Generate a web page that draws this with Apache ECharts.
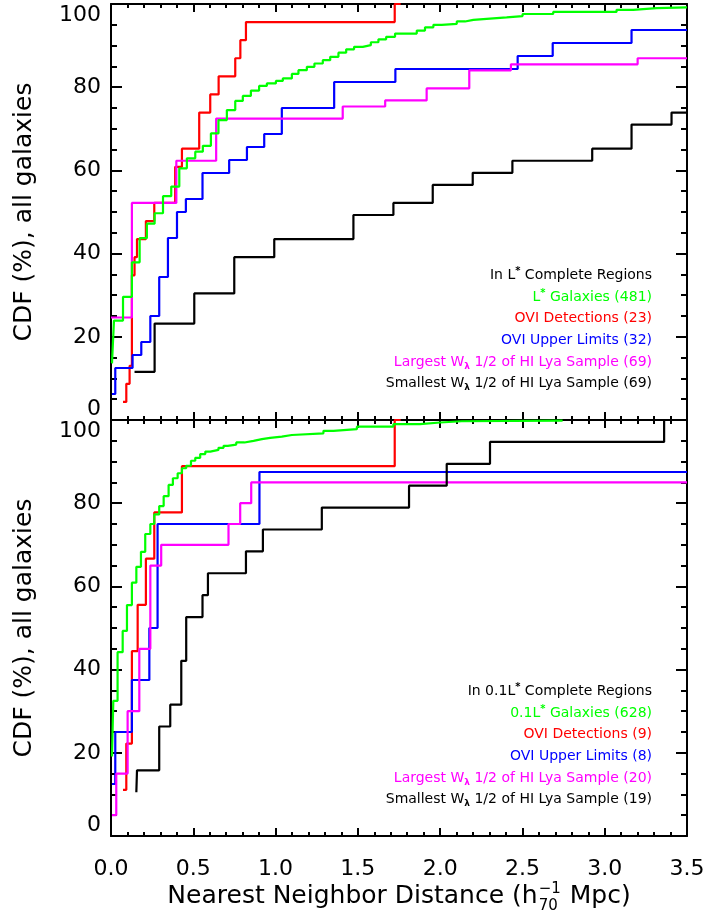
<!DOCTYPE html>
<html>
<head>
<meta charset="utf-8">
<script src="https://cdn.jsdelivr.net/npm/echarts@6/dist/echarts.min.js"></script>
<style>
html,body{margin:0;padding:0;background:#fff;}
#chart{width:709px;height:915px;}
</style>
</head>
<body>
<div id="chart"></div>
<script>
// ---------- Data ----------
// Top panel: L* complete regions
const greenTopX = [0.006, 0.018, 0.073, 0.127, 0.174, 0.218, 0.265, 0.316, 0.366, 0.415, 0.461, 0.512, 0.558, 0.607, 0.653, 0.704, 0.755, 0.801, 0.850, 0.900, 0.947, 1.002, 1.044, 1.099, 1.139, 1.190, 1.236, 1.287, 1.332, 1.382, 1.429, 1.477, 1.530, 1.579, 1.625, 1.672, 1.726, 1.858, 1.908, 1.959, 2.010, 2.101, 2.151, 2.202, 2.303, 2.404, 2.501, 2.687, 3.072, 3.173, 3.315, 3.5];
const greenTopY = [13.6, 23.9, 29.6, 37.9, 43.7, 47.2, 49.7, 53.8, 56.1, 60.5, 62.9, 64.5, 65.9, 68.9, 72.1, 74.5, 76.7, 77.9, 79.2, 80.3, 80.9, 81.5, 82.1, 83.2, 84.1, 84.9, 85.7, 86.5, 87.3, 88.3, 89.1, 89.7, 90.1, 90.8, 91.5, 92.1, 92.9, 93.6, 94.4, 95.0, 95.2, 95.8, 96.2, 96.5, 96.8, 97.1, 97.6, 98.1, 98.6, 99.0, 99.2, 99.2];

const redTopX = [0.073, 0.093, 0.113, 0.127, 0.143, 0.158, 0.212, 0.263, 0.390, 0.431, 0.536, 0.603, 0.654, 0.755, 0.786, 0.820, 1.724, 1.76];
const redTopY = [4.35, 8.70, 13.04, 34.78, 39.13, 43.48, 47.83, 52.17, 60.87, 65.22, 73.91, 78.26, 82.61, 86.96, 91.30, 95.65, 100, 100];

const blueTopX = [0.006, 0.026, 0.131, 0.184, 0.239, 0.293, 0.346, 0.401, 0.455, 0.556, 0.718, 0.826, 0.931, 1.038, 1.356, 1.728, 2.471, 2.684, 3.163, 3.5];
const blueTopY = [6.25, 12.5, 15.63, 18.75, 25.0, 34.38, 43.75, 50.0, 53.13, 59.38, 62.5, 65.63, 68.75, 75.0, 81.25, 84.38, 87.5, 90.63, 93.75, 93.75];

const magentaTopX = [0.0, 0.127, 0.397, 0.639, 1.408, 1.666, 1.918, 2.177, 2.430, 3.200, 3.5];
const magentaTopY = [24.64, 52.17, 62.32, 72.46, 75.36, 76.81, 79.71, 84.06, 85.51, 86.96, 86.96];

const blackTopX = [0.143, 0.265, 0.506, 0.749, 0.992, 1.473, 1.716, 1.955, 2.198, 2.439, 2.924, 3.163, 3.406, 3.5];
const blackTopY = [11.59, 23.19, 30.43, 39.13, 43.48, 49.28, 52.17, 56.52, 59.42, 62.32, 65.22, 71.01, 73.91, 73.91];

// Bottom panel: 0.1L* complete regions
const greenBotX = [0.006, 0.014, 0.040, 0.071, 0.097, 0.127, 0.154, 0.182, 0.208, 0.239, 0.263, 0.293, 0.320, 0.350, 0.376, 0.405, 0.431, 0.457, 0.486, 0.512, 0.542, 0.573, 0.603, 0.653, 0.684, 0.710, 0.761, 0.811, 0.866, 0.917, 0.967, 1.038, 1.099, 1.291, 1.352, 1.494, 1.716, 1.878, 2.000, 2.131, 2.744];
const greenBotY = [19.1, 32.5, 44.2, 49.3, 55.5, 60.9, 64.7, 68.3, 72.6, 75.0, 77.3, 79.3, 81.7, 84.4, 86.0, 87.2, 88.4, 89.0, 90.2, 90.9, 91.8, 92.4, 92.8, 93.3, 93.8, 94.1, 94.6, 95.0, 95.4, 95.7, 96.0, 96.4, 96.8, 97.4, 97.8, 98.4, 99.0, 99.4, 99.7, 99.85, 100];

const redBotX = [0.073, 0.093, 0.127, 0.162, 0.212, 0.263, 0.431, 1.724, 1.76];
const redBotY = [11.11, 22.22, 44.44, 55.56, 66.67, 77.78, 88.89, 100, 100];

const blueBotX = [0.006, 0.026, 0.127, 0.233, 0.283, 0.902, 3.5];
const blueBotY = [12.5, 25.0, 37.5, 50.0, 75.0, 87.5, 87.5];

const magentaBotX = [0.006, 0.032, 0.101, 0.172, 0.239, 0.305, 0.714, 0.785, 0.852, 3.5];
const magentaBotY = [5, 15, 30, 45, 65, 70, 75, 80, 85, 85];

const blackBotX = [0.154, 0.158, 0.293, 0.360, 0.427, 0.457, 0.556, 0.589, 0.820, 0.923, 1.281, 1.811, 2.040, 2.303, 3.361, 3.5];
const blackBotY = [10.53, 15.79, 26.32, 31.58, 42.11, 52.63, 57.89, 63.16, 68.42, 73.68, 78.95, 84.21, 89.47, 94.74, 100, 100];

// Text
const legendTop = [
  'In L{sup|*} Complete Regions',
  'L{sup|*} Galaxies (481)',
  'OVI Detections (23)',
  'OVI Upper Limits (32)',
  'Largest W{sub|λ} 1/2 of HI Lya Sample (69)',
  'Smallest W{sub|λ} 1/2 of HI Lya Sample (69)'
];
const legendBot = [
  'In 0.1L{sup|*} Complete Regions',
  '0.1L{sup|*} Galaxies (628)',
  'OVI Detections (9)',
  'OVI Upper Limits (8)',
  'Largest W{sub|λ} 1/2 of HI Lya Sample (20)',
  'Smallest W{sub|λ} 1/2 of HI Lya Sample (19)'
];
const legendColors = ['#000000', '#00ff00', '#ff0000', '#0000ff', '#ff00ff', '#000000'];
const yTitle = 'CDF (%), all galaxies';
const xTitleMain = 'Nearest Neighbor Distance (h';
const xTitleSup = '\u22121';
const xTitleSub = '70';
const xTitleEnd = ' Mpc)';

// ---------- Layout ----------
const FONT = '"DejaVu Sans", sans-serif';
const W = 709;
const gridLeft = 111, gridRight = 22;
const panelTop = [4, 420], panelH = 416;
const plotCX = gridLeft + (W - gridLeft - gridRight) / 2;
const LW = 2.2;

const zip = (xs, ys) => xs.map((x, i) => [x, ys[i]]);

function xAxisDef(grid, pos, labels) {
  return {
    type: 'value', gridIndex: grid, position: pos, min: 0, max: 3.5, interval: 0.5,
    axisLine: {show: true, onZero: false, lineStyle: {color: '#000', width: 2}},
    axisTick: {show: true, inside: true, length: 8, lineStyle: {color: '#000', width: 2}},
    minorTick: {show: true, splitNumber: 5, length: 4, lineStyle: {color: '#000', width: 2}},
    splitLine: {show: false}, minorSplitLine: {show: false},
    axisLabel: {show: labels, margin: 22, fontFamily: FONT, fontSize: 22, color: '#000',
      formatter: v => v.toFixed(1)}
  };
}
function yAxisDef(grid, pos, labels) {
  return {
    type: 'value', gridIndex: grid, position: pos, min: 0, max: 100, interval: 20,
    axisLine: {show: true, onZero: false, lineStyle: {color: '#000', width: 2}},
    axisTick: {show: true, inside: true, length: 11, lineStyle: {color: '#000', width: 2}},
    minorTick: {show: true, splitNumber: 4, length: 6, lineStyle: {color: '#000', width: 2}},
    splitLine: {show: false}, minorSplitLine: {show: false},
    axisLabel: {show: labels, margin: 10, fontFamily: FONT, fontSize: 22, color: '#000',
      verticalAlignMinLabel: 'bottom', verticalAlignMaxLabel: 'top'}
  };
}
function lineSeries(xs, ys, color, grid) {
  return {
    type: 'line', step: 'end', data: zip(xs, ys),
    xAxisIndex: grid * 2, yAxisIndex: grid * 2,
    showSymbol: false, symbol: 'none', clip: true, animation: false,
    lineStyle: {color: color, width: LW}, silent: true
  };
}

// measure text for the x-axis title
const mctx = document.createElement('canvas').getContext('2d');
function tw(text, size) { mctx.font = size + 'px ' + FONT; return mctx.measureText(text).width; }

const graphics = [];
// Legends
function addLegend(lines, centers) {
  lines.forEach((t, i) => {
    graphics.push({
      type: 'text', x: 652, y: centers[i], silent: true,
      style: {
        text: t, fill: legendColors[i], font: '14px ' + FONT,
        align: 'right', verticalAlign: 'middle', lineHeight: 18,
        rich: {
          sup: {fontSize: 10, lineHeight: 10, verticalAlign: 'top', fill: legendColors[i], fontFamily: FONT, fontWeight: 'bold'},
          sub: {fontSize: 9, lineHeight: 9, verticalAlign: 'bottom', fill: legendColors[i], fontFamily: FONT, fontWeight: 'bold'}
        }
      }
    });
  });
}
addLegend(legendTop, [275, 297, 318, 340, 362, 383]);
addLegend(legendBot, [691, 713, 734, 756, 778, 799]);

// Y titles
panelTop.forEach(t => {
  graphics.push({
    type: 'text', x: 24, y: t + panelH / 2, rotation: Math.PI / 2, silent: true,
    style: {text: yTitle, font: '25px ' + FONT, fill: '#000', align: 'center', verticalAlign: 'middle'}
  });
});

// X title
(function () {
  const fs = 25, fsSmall = 15;
  const wA = tw(xTitleMain, fs);
  const wS = Math.max(tw(xTitleSup, fsSmall), tw(xTitleSub, fsSmall));
  const wB = tw(xTitleEnd, fs);
  const total = wA + wS + wB + 2;
  const x0 = plotCX - total / 2;
  const yc = 896;
  graphics.push({type: 'text', x: x0, y: yc, silent: true,
    style: {text: xTitleMain, font: fs + 'px ' + FONT, fill: '#000', align: 'left', verticalAlign: 'middle'}});
  graphics.push({type: 'text', x: x0 + wA + 1, y: yc - 7, silent: true,
    style: {text: xTitleSup, font: fsSmall + 'px ' + FONT, fill: '#000', align: 'left', verticalAlign: 'middle'}});
  graphics.push({type: 'text', x: x0 + wA + 1, y: yc + 10, silent: true,
    style: {text: xTitleSub, font: fsSmall + 'px ' + FONT, fill: '#000', align: 'left', verticalAlign: 'middle'}});
  graphics.push({type: 'text', x: x0 + wA + wS + 2, y: yc, silent: true,
    style: {text: xTitleEnd, font: fs + 'px ' + FONT, fill: '#000', align: 'left', verticalAlign: 'middle'}});
})();

const chart = echarts.init(document.getElementById('chart'), null, {renderer: 'canvas'});
chart.setOption({
  animation: false,
  backgroundColor: '#fff',
  grid: panelTop.map(t => ({left: gridLeft, right: gridRight, top: t, height: panelH,
    containLabel: false, outerBoundsMode: 'none', show: false})),
  xAxis: [xAxisDef(0, 'bottom', false), xAxisDef(0, 'top', false),
          xAxisDef(1, 'bottom', true), xAxisDef(1, 'top', false)],
  yAxis: [yAxisDef(0, 'left', true), yAxisDef(0, 'right', false),
          yAxisDef(1, 'left', true), yAxisDef(1, 'right', false)],
  series: [
    lineSeries(redTopX, redTopY, '#ff0000', 0),
    lineSeries(blueTopX, blueTopY, '#0000ff', 0),
    lineSeries(magentaTopX, magentaTopY, '#ff00ff', 0),
    lineSeries(blackTopX, blackTopY, '#000000', 0),
    lineSeries(greenTopX, greenTopY, '#00ff00', 0),
    lineSeries(redBotX, redBotY, '#ff0000', 1),
    lineSeries(blueBotX, blueBotY, '#0000ff', 1),
    lineSeries(magentaBotX, magentaBotY, '#ff00ff', 1),
    lineSeries(blackBotX, blackBotY, '#000000', 1),
    lineSeries(greenBotX, greenBotY, '#00ff00', 1)
  ],
  graphic: graphics
});
</script>
</body>
</html>
